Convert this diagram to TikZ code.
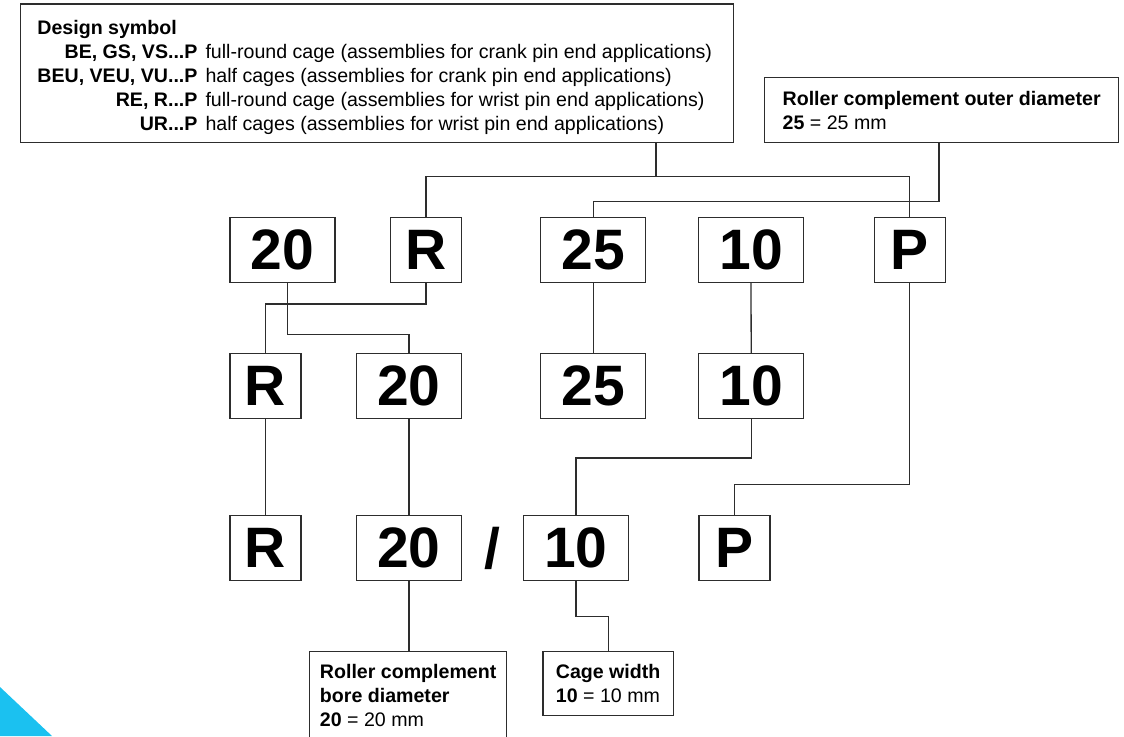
\documentclass[tikz,border=0pt]{standalone}
\usepackage{fontspec}
\setmainfont{Liberation Sans}
\definecolor{cornerblue}{RGB}{27,193,240}
\definecolor{inkgray}{RGB}{45,45,45}
\tikzset{
  link/.style={draw=inkgray, line width=0.65pt},
  bigbox/.style={draw=inkgray, line width=0.65pt, minimum height=32.3pt, inner sep=0pt,
    font=\fontsize{28.5}{28.5}\selectfont\bfseries},
  widebox/.style={bigbox, minimum width=52.5pt},
  slimbox/.style={bigbox, minimum width=35.5pt},
  infobox/.style={draw=inkgray, line width=0.65pt, anchor=north west, align=left,
    inner sep=0pt, font=\fontsize{9.8}{12}\selectfont},
}
\begin{document}
\begin{tikzpicture}[x=0.5pt, y=-0.5pt]
\useasboundingbox (0,0) rectangle (1124,736);
\fill[cornerblue] (0,687) -- (52,736) -- (0,736) -- cycle;
% legend boxes
\node[infobox, minimum width=356.5pt, minimum height=69.4pt] (design) at (20,3.3) {};
\node[anchor=north west, inner sep=0pt, font=\fontsize{9.8}{12}\selectfont] (designtext) at (37,17.2) {%
  \begin{tabular}{@{}r@{\hspace{4pt}}l@{}}
    \multicolumn{2}{@{}l}{\textbf{Design symbol}}\\
    \textbf{BE, GS, VS...P} & full-round cage (assemblies for crank pin end applications)\\
    \textbf{BEU, VEU, VU...P} & half cages (assemblies for crank pin end applications)\\
    \textbf{RE, R...P} & full-round cage (assemblies for wrist pin end applications)\\
    \textbf{UR...P} & half cages (assemblies for wrist pin end applications)
  \end{tabular}};
\node[infobox, minimum width=177pt, minimum height=32.65pt] (outer) at (764,76.7)
  {\textbf{Roller complement outer diameter}\\\textbf{25} = 25 mm};
% designation rows
\node[widebox] (n20a) at (282.5,250) {20};
\node[slimbox] (nRa) at (426,250) {R};
\node[widebox] (n25a) at (593.2,250) {25};
\node[widebox] (n10a) at (751,250) {10};
\node[slimbox] (nPa) at (909.8,250) {P};
\node[slimbox] (nRb) at (265.5,386) {R};
\node[widebox] (n20b) at (409,386) {20};
\node[widebox] (n25b) at (593.2,386) {25};
\node[widebox] (n10b) at (751.2,386) {10};
\node[slimbox] (nRc) at (265.5,548) {R};
\node[widebox] (n20c) at (409,548) {20};
\node[font=\fontsize{28.5}{28.5}\selectfont\bfseries] (slash) at (492.7,548) {/};
\node[widebox] (n10c) at (576,548) {10};
\node[slimbox] (nPc) at (734.6,548) {P};
\node[infobox, minimum width=98.5pt, minimum height=44.3pt] (bore) at (309,650.7)
  {\textbf{Roller complement}\\\textbf{bore diameter}\\\textbf{20} = 20 mm};
\node[infobox, minimum width=65.2pt, minimum height=32.15pt] (cage) at (542.3,650.7)
  {\textbf{Cage width}\\\textbf{10} = 10 mm};
% connectors
\coordinate (j1) at (656,176.7);
\coordinate (j2) at (939,201.7);
\draw[link] (design.south -| j1) -- (j1) -| (nRa.north);
\draw[link] (j1) -| (nPa.north);
\draw[link] (outer.south -| j2) -- (j2) -| (n25a.north);
\draw[link] ([xshift=2.4pt]n20a.south) -- ++(0,51.7) -| (n20b.north);
\draw[link] (nRa.south) -- ++(0,21) -| (nRb.north);
\draw[link] (n25a.south) -- (n25b.north);
\draw[link] (n10a.south) -- (n10b.north);
\draw[link] (nPa.south) -- ++(0,201.4) -| (nPc.north);
\draw[link] (nRb.south) -- (nRc.north);
\draw[link] (n20b.south) -- (n20c.north);
\draw[link] (n10b.south) -- ++(0,39) -| (n10c.north);
\draw[link] (n20c.south) -- (n20c.south |- bore.north);
\draw[link] (n10c.south) -- ++(0,35.7) -| (cage.north);
\end{tikzpicture}
\end{document}
